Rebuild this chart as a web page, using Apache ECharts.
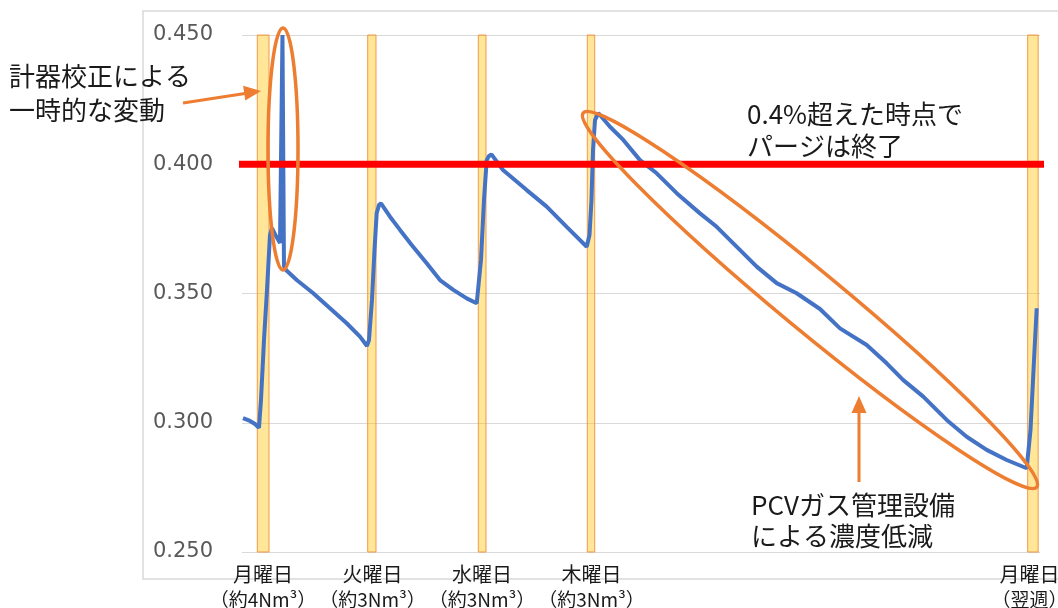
<!DOCTYPE html>
<html><head><meta charset="utf-8">
<script src="https://cdn.jsdelivr.net/npm/echarts@6/dist/echarts.min.js"></script>
<style>html,body{margin:0;padding:0;background:#fff;}#c{width:1058px;height:608px;}</style>
</head><body><div id="c"></div>
<script>
// x axis: hours relative to the Monday purge
const dayNames = ['月曜日', '火曜日', '水曜日', '木曜日', '月曜日'];
const dayNotes = ['（約4Nm³）', '（約3Nm³）', '（約3Nm³）', '（約3Nm³）', '（翌週）'];
const labelHours = [0, 24, 48, 72, 168];
const purgeBands = [[-1.25, 1.32], [22.95, 24.77], [47.19, 48.88], [71.08, 72.70], [167.6, 169.9]];
const threshold = 0.4;
const timeHours = [
  -4.38, -2.85, -1.75, -0.88, -0.44, 0.22, 0.88, 1.53, 1.97, 2.85, 3.73, 4.16, 4.27, 4.49, 4.60, 5.04,
  7.39, 11.02, 14.68, 18.35, 21.26, 22.79, 23.23, 23.89, 24.44, 24.92, 25.42, 25.86,
  27.84, 30.03, 32.59, 35.88, 38.79, 41.71, 44.65, 46.84, 47.23, 47.78, 48.44, 49.03, 49.53, 50.08,
  52.6, 57.8, 62.18, 66.56, 70.95, 71.56, 72.00, 72.33, 72.77, 73.49,
  76.05, 78.97, 82.63, 86.29, 90.67, 95.78, 99.44, 103.08, 108.21, 112.59, 116.97, 122.08, 126.46,
  132.32, 136.70, 140.34, 144.72, 149.85, 154.23, 158.62, 163.00, 167.38, 167.78, 168.22, 168.77, 169.21, 169.58
];
const concentration = [
  0.3018, 0.3007, 0.2995, 0.2980, 0.3088, 0.3320, 0.3514, 0.3726, 0.3753, 0.3722, 0.3695, 0.3699, 0.4500, 0.4500, 0.3606, 0.3591,
  0.3552, 0.3501, 0.3443, 0.3385, 0.3333, 0.3297, 0.3320, 0.3475, 0.3668, 0.3811, 0.3842, 0.3849,
  0.3797, 0.3746, 0.3688, 0.3617, 0.3552, 0.3514, 0.3481, 0.3462, 0.3467, 0.3630, 0.3862, 0.4016, 0.4032, 0.4038,
  0.3978, 0.3900, 0.3836, 0.3758, 0.3681, 0.3726, 0.3862, 0.4055, 0.4171, 0.4198,
  0.4145, 0.4094, 0.4016, 0.3965, 0.3888, 0.3810, 0.3758, 0.3694, 0.3604, 0.3540, 0.3501, 0.3440, 0.3365,
  0.3301, 0.3230, 0.3165, 0.3101, 0.3011, 0.2946, 0.2895, 0.2856, 0.2824, 0.2829, 0.2972, 0.3165, 0.3320, 0.3443
];

const xMin = -4.6, xMax = 170.3;
const seriesData = timeHours.map((h, i) => [h, concentration[i]]);
const orange = '#ED7D31';
const txt = '#1a1a1a';
const jp = '"Noto Sans CJK JP", "Noto Sans", sans-serif';

const chart = echarts.init(document.getElementById('c'), null, {renderer: 'canvas'});
chart.setOption({
  backgroundColor: '#ffffff',
  animation: false,
  grid: {left: 242, right: 18, top: 35, bottom: 56, containLabel: false, outerBoundsMode: 'none'},
  xAxis: {
    type: 'value', min: xMin, max: xMax,
    axisLine: {show: false}, axisTick: {show: false}, splitLine: {show: false},
    axisLabel: {
      customValues: labelHours, showMinLabel: true, showMaxLabel: true, hideOverlap: false,
      formatter: v => { const i = labelHours.indexOf(v); return i >= 0 ? '{a|' + dayNames[i] + '}\n{b|' + dayNotes[i] + '}' : ''; },
      color: txt, margin: 10, fontFamily: jp,
      rich: {
        a: {fontSize: 20, lineHeight: 25, color: txt, fontFamily: jp},
        b: {fontSize: 19, lineHeight: 25, color: txt, fontFamily: jp}
      }
    }
  },
  yAxis: {
    type: 'value', min: 0.25, max: 0.45, interval: 0.05,
    axisLine: {show: false}, axisTick: {show: false},
    splitLine: {lineStyle: {color: '#d9d9d9', width: 1}},
    axisLabel: {formatter: v => v.toFixed(3), color: '#595959', fontSize: 21, margin: 29, fontFamily: '"DejaVu Sans", sans-serif'}
  },
  series: [
    {
      type: 'line', data: seriesData, showSymbol: false, z: 2,
      lineStyle: {color: '#4472C4', width: 4}, silent: true
    },
    {
      type: 'line', data: [[xMin - 0.66, threshold], [xMax + 1.5, threshold]], clip: false,
      showSymbol: false, z: 3, lineStyle: {color: '#FF0000', width: 7}, silent: true
    },
    {
      type: 'line', data: [], z: 5, silent: true,
      markArea: {
        silent: true,
        itemStyle: {color: 'rgba(255,192,0,0.4)', borderColor: 'rgba(240,140,50,0.85)', borderWidth: 1},
        data: purgeBands.map(b => [{xAxis: b[0]}, {xAxis: b[1]}])
      }
    }
  ],
  graphic: [
    {type: 'rect', z: 0, silent: true, shape: {x: 143, y: 11, width: 960, height: 568},
     style: {fill: 'none', stroke: '#d9d9d9', lineWidth: 1.5}},
    {type: 'ellipse', z: 100, silent: true, shape: {cx: 283, cy: 149, rx: 15, ry: 121},
     style: {fill: 'none', stroke: orange, lineWidth: 3.5}},
    {type: 'ellipse', z: 100, silent: true, x: 810, y: 300, rotation: -0.69,
     shape: {cx: 0, cy: 0, rx: 294, ry: 30},
     style: {fill: 'none', stroke: orange, lineWidth: 3.5}},
    {type: 'line', z: 100, silent: true, shape: {x1: 183, y1: 103, x2: 245, y2: 93.5},
     style: {stroke: orange, lineWidth: 3}},
    {type: 'polygon', z: 100, silent: true, shape: {points: [[261, 91], [245.3, 100.6], [243.1, 85.8]]},
     style: {fill: orange}},
    {type: 'line', z: 100, silent: true, shape: {x1: 859, y1: 482, x2: 859, y2: 410},
     style: {stroke: orange, lineWidth: 3}},
    {type: 'polygon', z: 100, silent: true, shape: {points: [[859, 396], [851.5, 413], [866.5, 413]]},
     style: {fill: orange}},
    {type: 'text', z: 100, silent: true, x: 9, y: 59,
     style: {text: '計器校正による\n一時的な変動', fill: txt, fontSize: 26, lineHeight: 34, fontFamily: jp}},
    {type: 'text', z: 100, silent: true, x: 747, y: 98,
     style: {text: '0.4%超えた時点で\nパージは終了', fill: txt, fontSize: 26, lineHeight: 32, fontFamily: jp}},
    {type: 'text', z: 100, silent: true, x: 751, y: 490,
     style: {text: 'PCVガス管理設備\nによる濃度低減', fill: txt, fontSize: 26, lineHeight: 31, fontFamily: jp}}
  ]
});
</script></body></html>
